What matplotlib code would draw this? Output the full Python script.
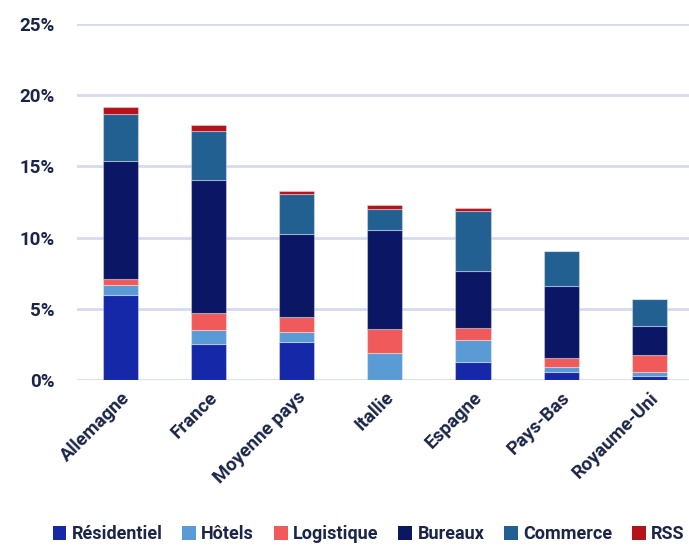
import matplotlib.pyplot as plt
from matplotlib.patches import Patch
from matplotlib.ticker import FuncFormatter
import numpy as np

# Data (percent)
countries = ['Allemagne', 'France', 'Moyenne pays', 'Itallie', 'Espagne', 'Pays-Bas', 'Royaume-Uni']
residentiel = [6.0, 2.55, 2.7, 0.0, 1.3, 0.56, 0.3]
hotels = [0.7, 0.95, 0.7, 1.87, 1.5, 0.33, 0.26]
logistique = [0.4, 1.2, 1.03, 1.71, 0.86, 0.65, 1.17]
bureaux = [8.3, 9.32, 5.8, 6.98, 4.03, 5.08, 2.08]
commerce = [3.27, 3.44, 2.81, 1.47, 4.19, 2.42, 1.86]
rss = [0.47, 0.44, 0.26, 0.24, 0.19, 0.03, 0.02]

series = ['Résidentiel', 'Hôtels', 'Logistique', 'Bureaux', 'Commerce', 'RSS']
colors = ['#1428a8', '#5b9bd5', '#f05a5a', '#0b1764', '#236092', '#b5121b']
values = [residentiel, hotels, logistique, bureaux, commerce, rss]

text_color = '#1b2548'
font = ['Roboto', 'DejaVu Sans']

fig = plt.figure(figsize=(6.89, 5.46), dpi=100)
ax = fig.add_axes([0.112, 0.304, 0.888, 0.652])

x = np.arange(len(countries))
bottom = np.zeros(len(countries))
for name, vals, col in zip(series, values, colors):
    vals = np.array(vals)
    ax.bar(x, vals, 0.4, bottom=bottom, color=col, label=name,
           edgecolor=(1, 1, 1, 0.35), linewidth=0.8, zorder=3)
    bottom += vals

ax.set_ylim(0, 25)
ax.set_xlim(-0.49, 6.45)
ax.set_yticks([0, 5, 10, 15, 20, 25])
ax.yaxis.set_major_formatter(FuncFormatter(lambda v, p: f'{v:.0f}%'))
ax.grid(axis='y', color='#d5daf0', linewidth=2, zorder=0)
for s in ax.spines.values():
    s.set_visible(False)
ax.tick_params(axis='both', length=0, colors=text_color)
ax.tick_params(axis='y', pad=16)
ax.tick_params(axis='x', pad=6)

ax.set_xticks(x)
ax.set_xticklabels(countries, rotation=45, ha='right', rotation_mode='anchor')
for lbl in ax.get_xticklabels() + ax.get_yticklabels():
    lbl.set_family(font)
    lbl.set_fontweight('bold')
    lbl.set_fontsize(13.5)
    lbl.set_color(text_color)

handles = [Patch(facecolor=c, label=n) for n, c in zip(series, colors)]
leg = fig.legend(handles=handles, loc='lower center', bbox_to_anchor=(0.535, -0.025),
                 ncol=6, frameon=False, handlelength=0.75, handleheight=0.75,
                 handletextpad=0.3, columnspacing=1.1,
                 prop={'family': font, 'weight': 'bold', 'size': 13})
for t in leg.get_texts():
    t.set_color(text_color)

fig.savefig('out.png', dpi=100)
